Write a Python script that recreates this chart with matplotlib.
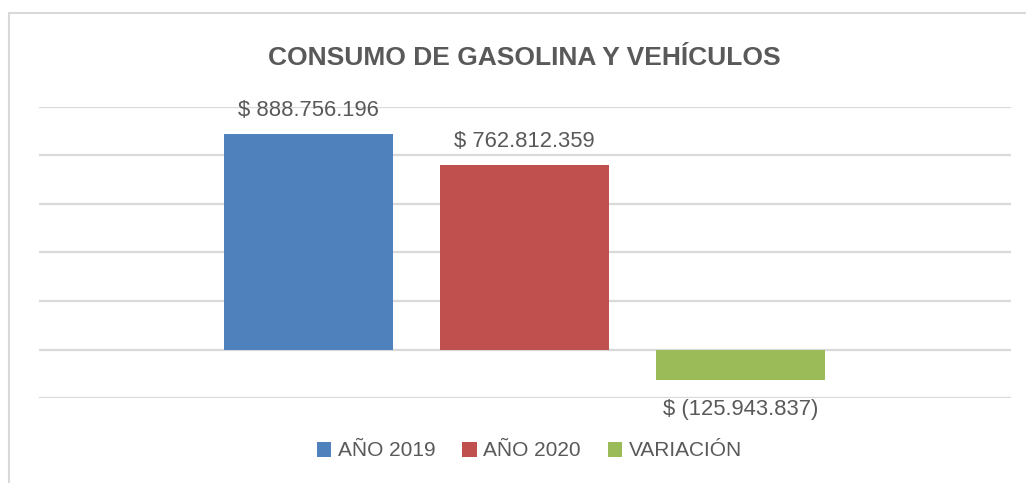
import matplotlib.pyplot as plt
from matplotlib.patches import Rectangle

series = ['AÑO 2019', 'AÑO 2020', 'VARIACIÓN']
values = [888756196, 762812359, -125943837]
labels = ['$ 888.756.196', '$ 762.812.359', '$ (125.943.837)']
colors = ['#4f81bd', '#c0504d', '#9bbb59']

plt.rcParams['font.family'] = ['Liberation Sans', 'DejaVu Sans']
txt = '#595959'

fig = plt.figure(figsize=(10.26, 4.83), dpi=100)
ax = fig.add_axes([39 / 1026, 85 / 483, 972 / 1026, 291 / 483])

# outer chart frame
fig.patches.append(Rectangle((8.5 / 1026, -0.1), 1.2, (483 - 13.5) / 483 + 0.1,
                             transform=fig.transFigure, fill=False,
                             edgecolor='#d9d9d9', lw=1.5))

for i, (s, v, c) in enumerate(zip(series, values, colors)):
    ax.bar(i, v, width=0.78, color=c, label=s, zorder=3)
    off = 9 if v >= 0 else -14
    ax.annotate(labels[i], (i, v), xytext=(0, off), textcoords='offset points',
                ha='center', va='bottom' if v >= 0 else 'top',
                fontsize=15.8, color=txt)

ax.set_xlim(-1.248, 3.252)
ax.set_ylim(-200e6, 1000e6)
ax.set_yticks([-200e6, 0, 200e6, 400e6, 600e6, 800e6, 1000e6])
ax.grid(axis='y', color='#d9d9d9', lw=1.6, zorder=0)
ax.tick_params(left=False, bottom=False, labelleft=False, labelbottom=False)
for sp in ax.spines.values():
    sp.set_visible(False)

fig.text(0.511, 1 - 58 / 483, 'CONSUMO DE GASOLINA Y VEHÍCULOS', ha='center', va='center',
         fontsize=19, fontweight='bold', color=txt)

fig.legend(loc='center', bbox_to_anchor=(0.516, 1 - 451 / 483), ncol=3, frameon=False,
           handlelength=0.7, handleheight=0.7, handletextpad=0.3, columnspacing=1.3,
           prop={'size': 15}, labelcolor=txt)

fig.savefig('out.png', dpi=100)
